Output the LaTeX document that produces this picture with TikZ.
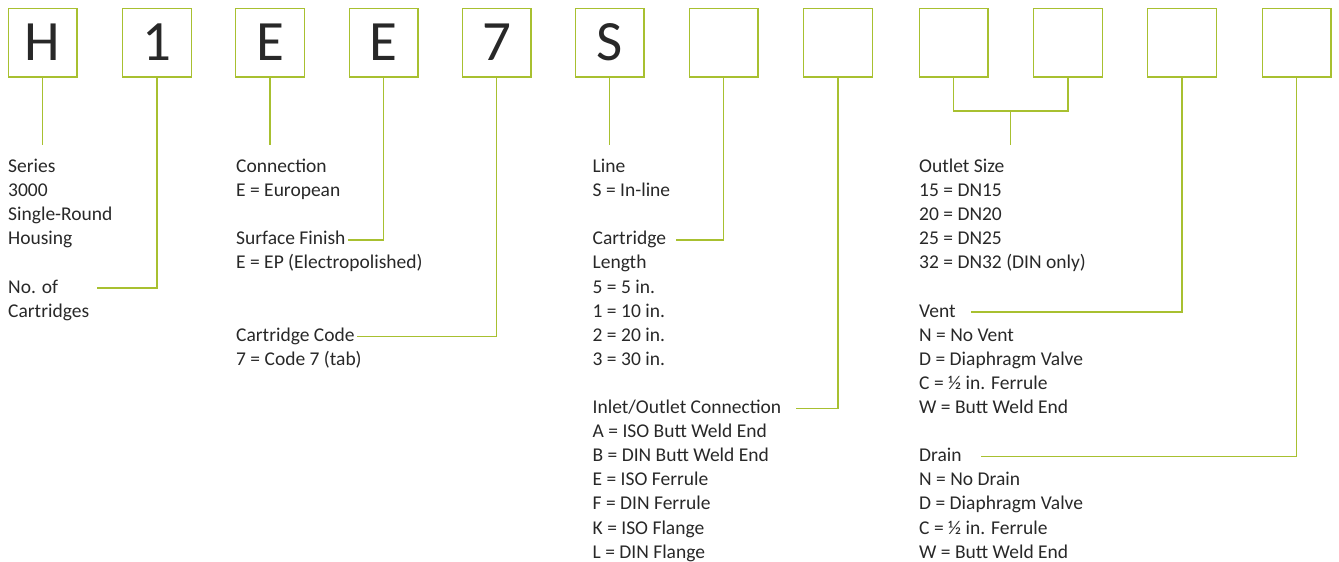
\documentclass[tikz,border=0pt]{standalone}
\usepackage{fontspec}
\setmainfont{Carlito}
\definecolor{lime}{RGB}{168,192,48}
\definecolor{txt}{RGB}{40,40,40}
\newcommand\txtrow[4]{\node[lbl] (#1) at (#2,{172.5+24.1*#3}) {#4};}
\begin{document}
\begin{tikzpicture}[x=1pt,y=-1pt,
  codebox/.style={draw=lime, line width=1.4pt, minimum size=68.6pt, inner sep=0pt,
    font=\fontsize{57}{57}\selectfont, text=txt},
  lbl/.style={anchor=base west, inner sep=0pt, font=\fontsize{19.5}{24}\selectfont, text=txt},
  conn/.style={draw=lime, line width=1.4pt}]
\useasboundingbox (0,0) rectangle (1339,562);
% code boxes
\node[codebox] (b1) at (42.5,42.5) {H};
\node[codebox] (b2) at (157,42.5) {1};
\node[codebox] (b3) at (270,42.5) {E};
\node[codebox] (b4) at (383.5,42.5) {E};
\node[codebox] (b5) at (496.5,42.5) {7};
\node[codebox] (b6) at (609.5,42.5) {S};
\node[codebox] (b7) at (723.7,42.5) {};
\node[codebox] (b8) at (838,42.5) {};
\node[codebox] (b9) at (953.5,42.5) {};
\node[codebox] (b10) at (1068,42.5) {};
\node[codebox] (b11) at (1182,42.5) {};
\node[codebox] (b12) at (1296.7,42.5) {};
% column 1
\txtrow{series}{8}{0}{Series}
\txtrow{c1r1}{8}{1}{3000}
\txtrow{c1r2}{8}{2}{Single-Round}
\txtrow{c1r3}{8}{3}{Housing}
\txtrow{noof}{8}{5}{No. of}
\txtrow{c1r6}{8}{6}{Cartridges}
% column 2
\txtrow{connection}{236}{0}{Connection}
\txtrow{c2r1}{236}{1}{E = European}
\txtrow{surface}{236}{3}{Surface Finish}
\txtrow{c2r4}{236}{4}{E = EP (Electropolished)}
\txtrow{code}{236}{7}{Cartridge Code}
\txtrow{c2r8}{236}{8}{7 = Code 7 (tab)}
% column 3
\txtrow{line}{592.5}{0}{Line}
\txtrow{c3r1}{592.5}{1}{S = In-line}
\txtrow{length}{592.5}{3}{Cartridge}
\txtrow{c3r4}{592.5}{4}{Length}
\txtrow{c3r5}{592.5}{5}{5 = 5 in.}
\txtrow{c3r6}{592.5}{6}{1 = 10 in.}
\txtrow{c3r7}{592.5}{7}{2 = 20 in.}
\txtrow{c3r8}{592.5}{8}{3 = 30 in.}
\txtrow{inlet}{592.5}{10}{Inlet/Outlet Connection}
\txtrow{c3r11}{592.5}{11}{A = ISO Butt Weld End}
\txtrow{c3r12}{592.5}{12}{B = DIN Butt Weld End}
\txtrow{c3r13}{592.5}{13}{E = ISO Ferrule}
\txtrow{c3r14}{592.5}{14}{F = DIN Ferrule}
\txtrow{c3r15}{592.5}{15}{K = ISO Flange}
\txtrow{c3r16}{592.5}{16}{L = DIN Flange}
% column 4
\txtrow{outlet}{919}{0}{Outlet Size}
\txtrow{c4r1}{919}{1}{15 = DN15}
\txtrow{c4r2}{919}{2}{20 = DN20}
\txtrow{c4r3}{919}{3}{25 = DN25}
\txtrow{c4r4}{919}{4}{32 = DN32 (DIN only)}
\txtrow{vent}{919}{6}{Vent}
\txtrow{c4r7}{919}{7}{N = No Vent}
\txtrow{c4r8}{919}{8}{D = Diaphragm Valve}
\txtrow{c4r9}{919}{9}{C = ½ in. Ferrule}
\txtrow{c4r10}{919}{10}{W = Butt Weld End}
\txtrow{drain}{919}{12}{Drain}
\txtrow{c4r13}{919}{13}{N = No Drain}
\txtrow{c4r14}{919}{14}{D = Diaphragm Valve}
\txtrow{c4r15}{919}{15}{C = ½ in. Ferrule}
\txtrow{c4r16}{919}{16}{W = Butt Weld End}
% connector ends
\coordinate (stub) at (0,145);
\coordinate (noofend) at (97,{167.5+24.1*5});
\coordinate (surfend) at (348,{167.5+24.1*3});
\coordinate (codeend) at (357,{167.5+24.1*7});
\coordinate (lenend) at (676,{167.5+24.1*3});
\coordinate (inletend) at (796,{167.5+24.1*10});
\coordinate (ventend) at (971,{167.5+24.1*6});
\coordinate (drainend) at (981,{167.5+24.1*12});
\coordinate (osj) at (1010.5,111);
% connectors
\draw[conn] (b1.south) -- (b1.south |- stub);
\draw[conn] (b2.south) |- (noofend);
\draw[conn] (b3.south) -- (b3.south |- stub);
\draw[conn] (b4.south) |- (surfend);
\draw[conn] (b5.south) |- (codeend);
\draw[conn] (b6.south) -- (b6.south |- stub);
\draw[conn] (b7.south) |- (lenend);
\draw[conn] (b8.south) |- (inletend);
\draw[conn] (b9.south) -- (b9.south |- osj) -- (b10.south |- osj) -- (b10.south);
\draw[conn] (osj) -- (osj |- stub);
\draw[conn] (b11.south) |- (ventend);
\draw[conn] (b12.south) |- (drainend);
\end{tikzpicture}
\end{document}
